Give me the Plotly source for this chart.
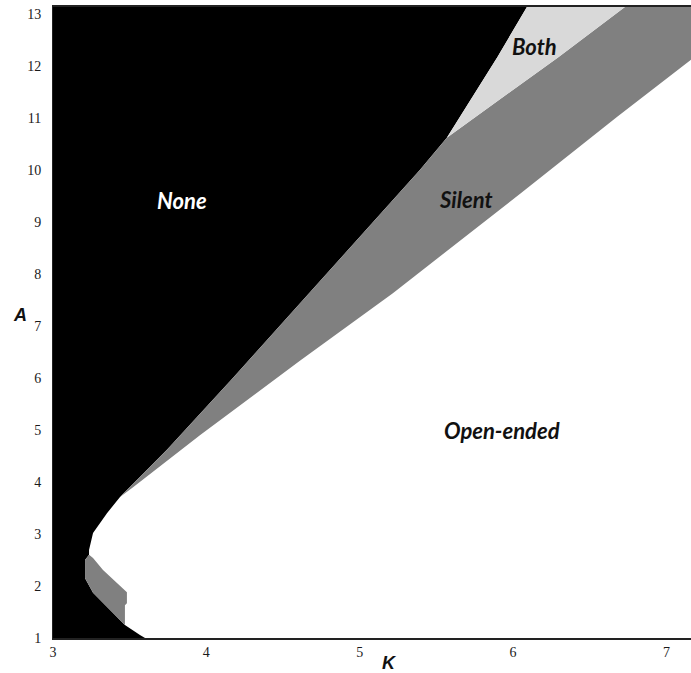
import plotly.graph_objects as go

# ---- axis extents (data units) ----
K_MIN, K_MAX = 3.0, 7.16
A_MIN, A_MAX = 1.0, 13.135

x_tick_vals = [3, 4, 5, 6, 7]
x_tick_text = ["3", "4", "5", "6", "7"]
y_tick_vals = list(range(1, 14))
y_tick_text = [str(v) for v in y_tick_vals]

# ---- region boundaries ----
# Black ("None") / light-grey ("Both") boundary, top to bottom
none_both_K = [6.090, 5.897, 5.568]
none_both_A = [13.135, 12.17, 10.62]

# Light-grey ("Both") / grey ("Silent") boundary, top to bottom
both_silent_K = [6.729, 6.295, 5.568]
both_silent_A = [13.135, 12.17, 10.62]

# Black ("None") / grey ("Silent") boundary, top to bottom
none_silent_K = [5.568, 5.392, 4.630, 4.173, 3.743, 3.437]
none_silent_A = [10.62, 10.00, 7.50, 6.00, 4.62, 3.71]

# Grey ("Silent") / white ("Open-ended") boundary, top-right to bottom-left
silent_open_K = [7.16, 6.677, 6.044, 5.477, 5.216, 4.610, 3.958, 3.522, 3.437]
silent_open_A = [12.12, 11.02, 9.54, 8.23, 7.63, 6.33, 4.90, 3.90, 3.71]

# Black / white nose, top to bottom
nose_K = [3.437, 3.352, 3.261, 3.235, 3.235]
nose_A = [3.71, 3.40, 3.02, 2.69, 2.60]

# Lower grey band: outer (black side) boundary, top to bottom
band_outer_K = [3.235, 3.209, 3.209, 3.261, 3.372, 3.469]
band_outer_A = [2.60, 2.50, 2.15, 1.87, 1.54, 1.25]

# Lower grey band: inner (white side) boundary, top to bottom
band_inner_K = [3.235, 3.261, 3.326, 3.417, 3.482, 3.482, 3.469, 3.469]
band_inner_A = [2.60, 2.54, 2.31, 2.06, 1.88, 1.67, 1.63, 1.25]

# Black / white boundary below the band down to the K axis
low_K = [3.469, 3.567, 3.600]
low_A = [1.25, 1.06, 1.00]

# Region labels
label_text = ["None", "Silent", "Both", "Open-ended"]
label_K = [3.841, 5.692, 6.142, 5.927]
label_A = [9.42, 9.44, 12.37, 5.00]
label_color = ["white", "#111111", "#111111", "#111111"]

BLACK = "#000000"
GREY = "#808080"
LIGHT = "#d9d9d9"

fig = go.Figure()


def poly(xs, ys, color):
    fig.add_trace(go.Scatter(
        x=xs, y=ys, mode="lines", fill="toself", fillcolor=color,
        line=dict(width=0, color=color), hoverinfo="skip", showlegend=False))


# None (black): left part of the plane
none_x = ([K_MIN] + none_both_K + none_silent_K[1:] + nose_K[1:]
          + band_outer_K[1:] + low_K[1:] + [K_MIN])
none_y = ([A_MAX] + none_both_A + none_silent_A[1:] + nose_A[1:]
          + band_outer_A[1:] + low_A[1:] + [A_MIN])
poly(none_x, none_y, BLACK)

# Silent (grey) upper band
sil_x = (both_silent_K[::-1] + [K_MAX] + silent_open_K
         + none_silent_K[::-1][1:])
sil_y = (both_silent_A[::-1] + [A_MAX] + silent_open_A
         + none_silent_A[::-1][1:])
poly(sil_x, sil_y, GREY)

# Both (light grey)
both_x = none_both_K + both_silent_K[::-1][1:]
both_y = none_both_A + both_silent_A[::-1][1:]
poly(both_x, both_y, LIGHT)

# Silent (grey) lower band
band_x = band_outer_K + band_inner_K[::-1]
band_y = band_outer_A + band_inner_A[::-1]
poly(band_x, band_y, GREY)

for t, kx, ay, c in zip(label_text, label_K, label_A, label_color):
    fig.add_annotation(x=kx, y=ay, text="<b><i>" + t + "</i></b>",
                       showarrow=False, xanchor="center", yanchor="middle",
                       font=dict(family="Lato", size=22, color=c))

fig.add_annotation(xref="paper", yref="paper", x=-0.052, y=0.512,
                   xanchor="center", yanchor="middle",
                   text="<b><i>A</i></b>", showarrow=False,
                   font=dict(family="Liberation Sans", size=18, color="#111111"))
fig.add_annotation(xref="paper", yref="paper", x=0.528, y=-0.04,
                   xanchor="center", yanchor="middle",
                   text="<b><i>K</i></b>", showarrow=False,
                   font=dict(family="Liberation Sans", size=18, color="#111111"))

fig.update_layout(
    width=691, height=673,
    margin=dict(l=53, r=0, t=7, b=35),
    paper_bgcolor="white", plot_bgcolor="white",
    showlegend=False,
    xaxis=dict(range=[K_MIN, K_MAX], tickvals=x_tick_vals, ticktext=x_tick_text,
               showgrid=False, zeroline=False, showline=True, linecolor="#222222",
               linewidth=1.5, mirror=True, ticks="",
               tickfont=dict(family="Liberation Serif", size=14, color="#1a1a1a")),
    yaxis=dict(range=[A_MIN, A_MAX], tickvals=y_tick_vals, ticktext=y_tick_text,
               showgrid=False, zeroline=False, showline=True, linecolor="#222222",
               linewidth=1, ticks="", ticklabelstandoff=8,
               tickfont=dict(family="Liberation Serif", size=14, color="#1a1a1a")),
)

fig.write_html("out.html",
               config={"displayModeBar": False},
               post_script="document.body.style.margin='0px';"
                           "document.body.style.overflow='hidden';")
